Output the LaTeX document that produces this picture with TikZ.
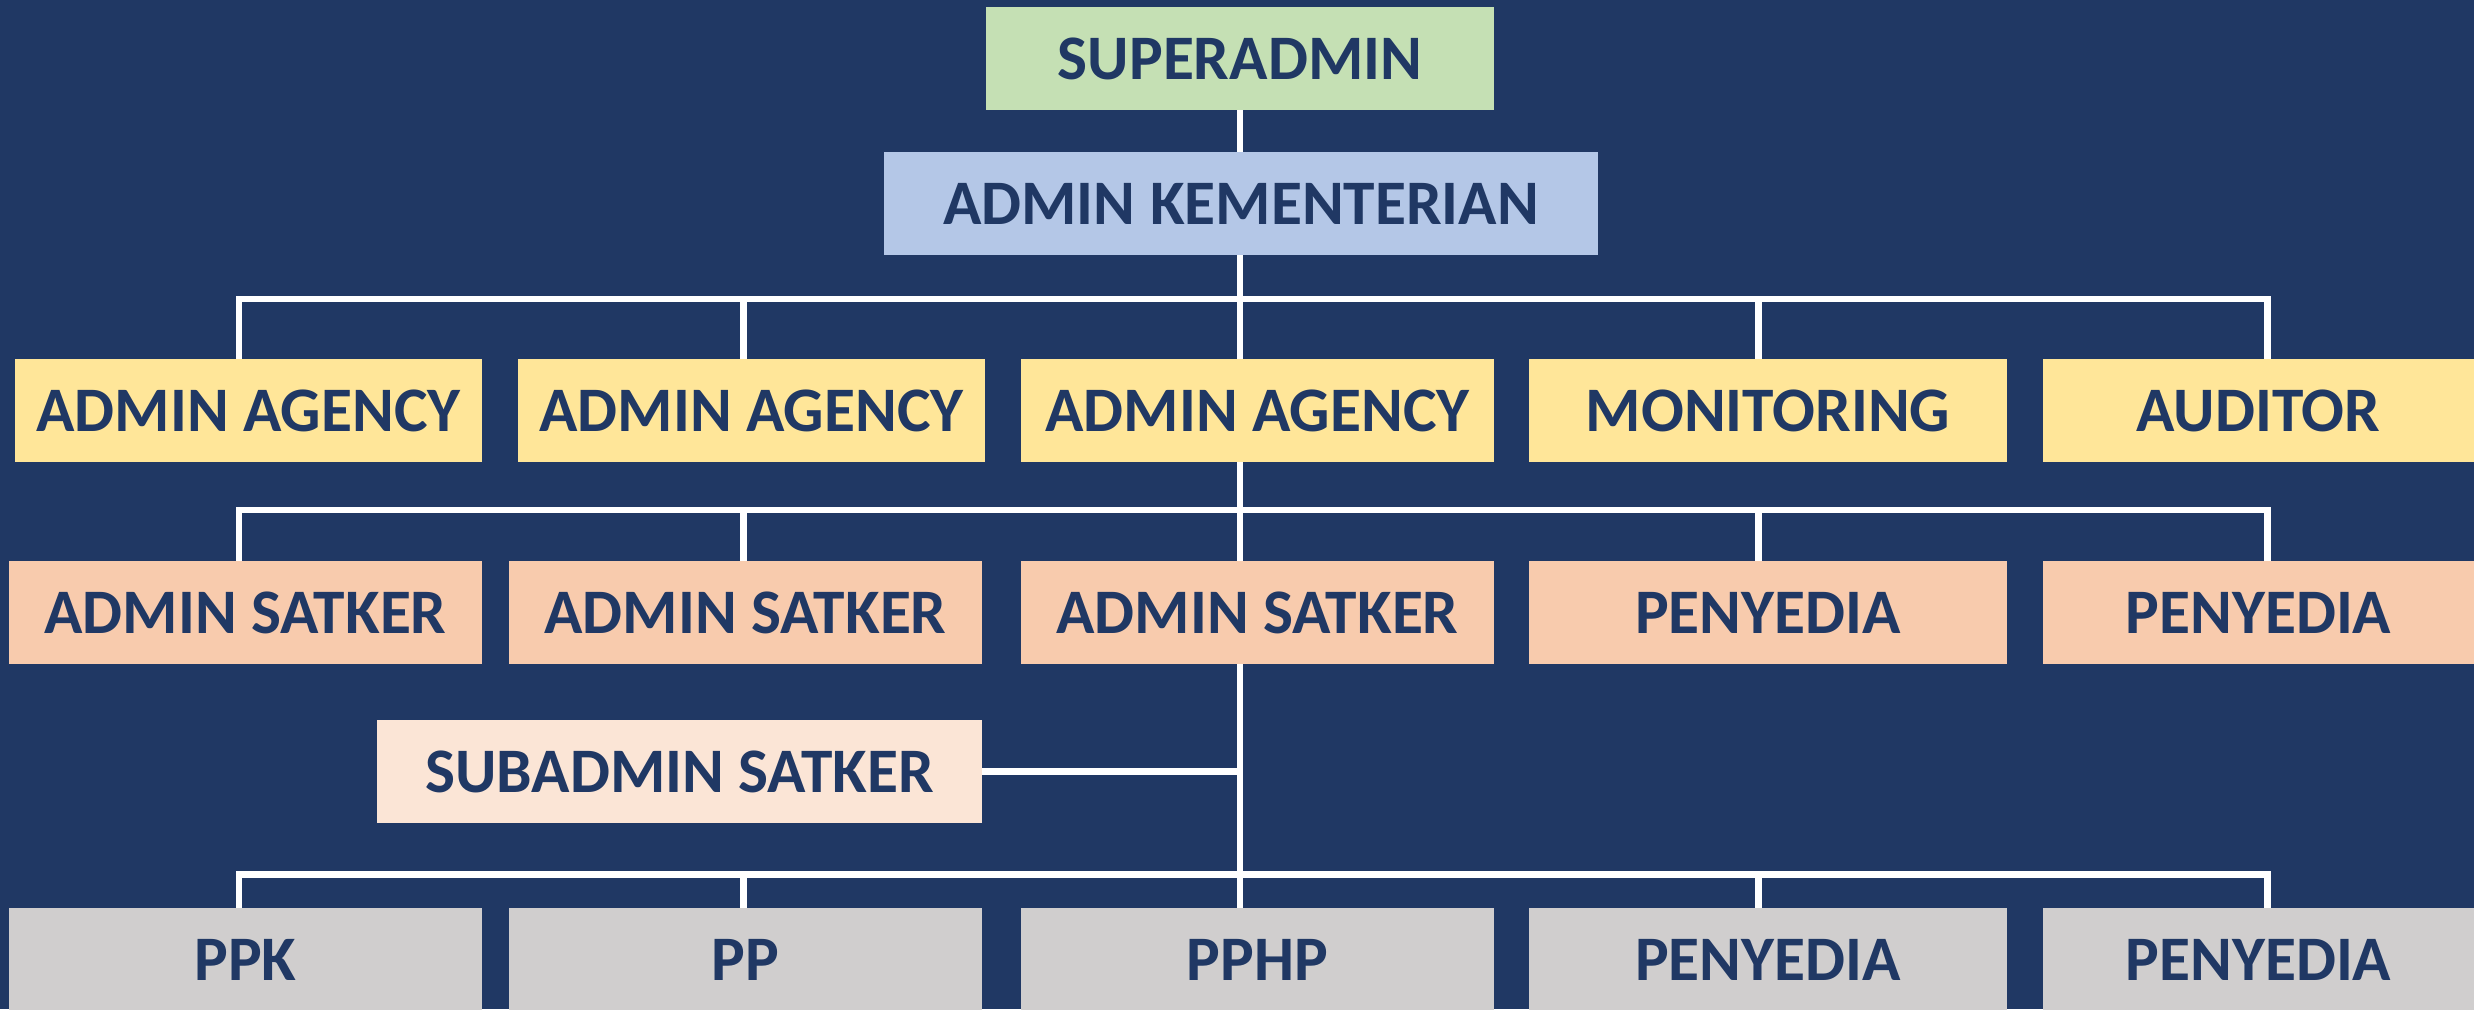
\documentclass[tikz,border=0pt]{standalone}
\usepackage{fontspec}
\setmainfont{Carlito}
\definecolor{bgblue}{HTML}{203864}
\definecolor{cgreen}{HTML}{C5E0B4}
\definecolor{cblue}{HTML}{B4C7E7}
\definecolor{cyellow}{HTML}{FFE699}
\definecolor{corange}{HTML}{F8CBAD}
\definecolor{clight}{HTML}{FBE5D6}
\definecolor{cgray}{HTML}{D0CECE}
\begin{document}
\begin{tikzpicture}[x=0.5pt,y=-0.5pt,
  box/.style={draw=none, inner sep=0pt, minimum height=51.5pt, text=bgblue,
    font=\fontsize{31.7}{38}\selectfont\bfseries},
  conn/.style={draw=white, line width=3.2pt, line cap=rect, line join=miter}]
\useasboundingbox (0,0) rectangle (2474,1009);
\fill[bgblue] (0,0) rectangle (2474,1009);
% column coordinates for the buses
\coordinate (b1a) at (239,299);
\coordinate (b1e) at (2267.5,299);
\coordinate (b2a) at (239,510);
\coordinate (b2e) at (2267.5,510);
\coordinate (b3a) at (239,874.5);
\coordinate (b3e) at (2267.5,874.5);
\coordinate (xc2) at (743.6,0);
\coordinate (xc3) at (1240,0);
\coordinate (xc4) at (1758.5,0);
% connectors (drawn first, under the boxes)
\draw[conn] (1240,110) -- (1240,152);
\draw[conn] (1240,255) -- (1240,908);
\draw[conn] (b1a |- 0,359) -- (b1a) -- (b1e) -- (b1e |- 0,359);
\draw[conn] (xc2 |- b1a) -- (xc2 |- 0,359);
\draw[conn] (xc4 |- b1a) -- (xc4 |- 0,359);
\draw[conn] (b2a |- 0,561) -- (b2a) -- (b2e) -- (b2e |- 0,561);
\draw[conn] (xc2 |- b2a) -- (xc2 |- 0,561);
\draw[conn] (xc4 |- b2a) -- (xc4 |- 0,561);
\draw[conn] (b3a |- 0,908) -- (b3a) -- (b3e) -- (b3e |- 0,908);
\draw[conn] (xc2 |- b3a) -- (xc2 |- 0,908);
\draw[conn] (xc4 |- b3a) -- (xc4 |- 0,908);
\draw[conn] (982,771.5) -- (1240,771.5);
% boxes
\node[box, fill=cgreen, minimum width=254pt] (super) at (1240,58.5) {SUPERADMIN};
\node[box, fill=cblue, minimum width=357pt] (kem) at (1241,203.5) {ADMIN KEMENTERIAN};
\node[box, fill=cyellow, minimum width=233.5pt] (a1) at (248.5,410.5) {ADMIN AGENCY};
\node[box, fill=cyellow, minimum width=233.5pt] (a2) at (751.5,410.5) {ADMIN AGENCY};
\node[box, fill=cyellow, minimum width=236.5pt] (a3) at (1257.5,410.5) {ADMIN AGENCY};
\node[box, fill=cyellow, minimum width=239pt] (mon) at (1768,410.5) {MONITORING};
\node[box, fill=cyellow, minimum width=215.5pt] (aud) at (2258.5,410.5) {AUDITOR};
\node[box, fill=corange, minimum width=236.5pt] (s1) at (245.5,612.5) {ADMIN SATKER};
\node[box, fill=corange, minimum width=236.5pt] (s2) at (745.5,612.5) {ADMIN SATKER};
\node[box, fill=corange, minimum width=236.5pt] (s3) at (1257.5,612.5) {ADMIN SATKER};
\node[box, fill=corange, minimum width=239pt] (p1) at (1768,612.5) {PENYEDIA};
\node[box, fill=corange, minimum width=215.5pt] (p2) at (2258.5,612.5) {PENYEDIA};
\node[box, fill=clight, minimum width=302.5pt] (sub) at (679.5,771.5) {SUBADMIN SATKER};
\node[box, fill=cgray, minimum width=236.5pt] (ppk) at (245.5,959.5) {PPK};
\node[box, fill=cgray, minimum width=236.5pt] (pp) at (745.5,959.5) {PP};
\node[box, fill=cgray, minimum width=236.5pt] (pphp) at (1257.5,959.5) {PPHP};
\node[box, fill=cgray, minimum width=239pt] (p3) at (1768,959.5) {PENYEDIA};
\node[box, fill=cgray, minimum width=215.5pt] (p4) at (2258.5,959.5) {PENYEDIA};
\end{tikzpicture}
\end{document}
